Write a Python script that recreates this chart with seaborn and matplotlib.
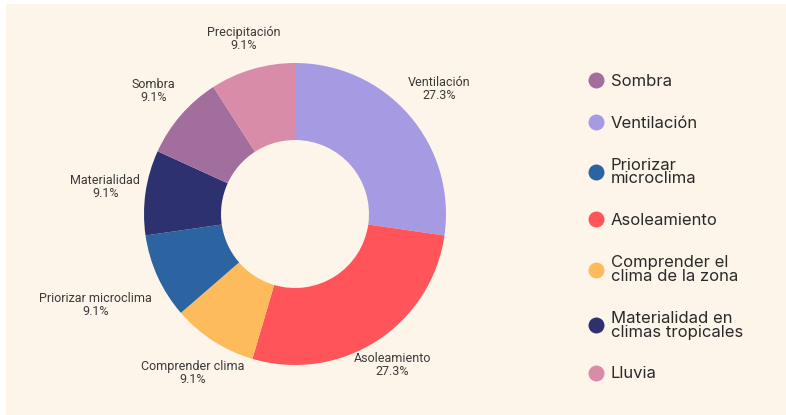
import matplotlib
matplotlib.use("Agg")
import matplotlib.pyplot as plt
import numpy as np
from matplotlib.lines import Line2D
from matplotlib.patches import Rectangle
import seaborn as sns

# slices, clockwise from the top
slice_labels = ["Ventilación", "Asoleamiento", "Comprender clima", "Priorizar microclima",
                "Materialidad", "Sombra", "Precipitación"]
slice_counts = [3, 3, 1, 1, 1, 1, 1]
slice_colors = ["#A69BE2", "#FF5459", "#FDBB5C", "#2C63A1", "#2E3170", "#A26E9D", "#D98CA8"]

# legend text per slice (same order as above) and the order the legend lists them
legend_labels = ["Ventilación", "Asoleamiento", "Comprender el\nclima de la zona",
                 "Priorizar\nmicroclima", "Materialidad en\nclimas tropicales", "Sombra", "Lluvia"]
legend_order = [5, 0, 3, 1, 2, 4, 6]

# how far out each slice label sits (in radii)
label_dist = [1.26, 1.19, 1.25, 1.45, 1.27, 1.24, 1.21]

BG = "#FDF5EA"

sns.set_theme(style="white")
palette = sns.color_palette(slice_colors)

fig = plt.figure(figsize=(7.86, 4.15), dpi=100)
fig.patch.set_facecolor("white")
fig.add_artist(Rectangle((6 / 786, 0), 1, 1 - 4 / 415, transform=fig.transFigure,
                         facecolor=BG, edgecolor="none", zorder=0))

# square axes centred on the donut
R_px = 151
lim = 1.6
size = 2 * lim * R_px
cx, cy = 295, 415 - 214
ax = fig.add_axes([(cx - size / 2) / 786, (cy - size / 2) / 415, size / 786, size / 415])
ax.patch.set_alpha(0)

wedges, _ = ax.pie(
    slice_counts,
    colors=palette,
    startangle=90,
    counterclock=False,
    radius=1.0,
    wedgeprops=dict(width=0.51, linewidth=0),
)

total = sum(slice_counts)
for w, name, n, d in zip(wedges, slice_labels, slice_counts, label_dist):
    mid = np.deg2rad((w.theta1 + w.theta2) / 2)
    ax.text(d * np.cos(mid), d * np.sin(mid), f"{name}\n{100 * n / total:.1f}%",
            ha="center", va="center", fontsize=9.0, color="#3a3a3a",
            family=["Roboto", "DejaVu Sans"], linespacing=1.0, clip_on=False)

ax.set_xlim(-lim, lim)
ax.set_ylim(-lim, lim)
ax.set_aspect("equal")
ax.axis("off")

handles = [Line2D([], [], marker="o", linestyle="none", markersize=11.5,
                  markerfacecolor=slice_colors[i], markeredgewidth=0) for i in legend_order]
labels = [legend_labels[i] for i in legend_order]
leg = fig.legend(handles, labels, loc="upper left", bbox_to_anchor=(571 / 786, 1 - 59 / 415),
                 frameon=False, handletextpad=0.3, labelspacing=1.61, handlelength=1.2,
                 prop={"family": ["Inter", "DejaVu Sans"], "size": 12})
for txt in leg.get_texts():
    txt.set_color("#2a2a2a")
    txt.set_linespacing(0.9)

fig.savefig("out.png", dpi=100, facecolor=fig.get_facecolor())
